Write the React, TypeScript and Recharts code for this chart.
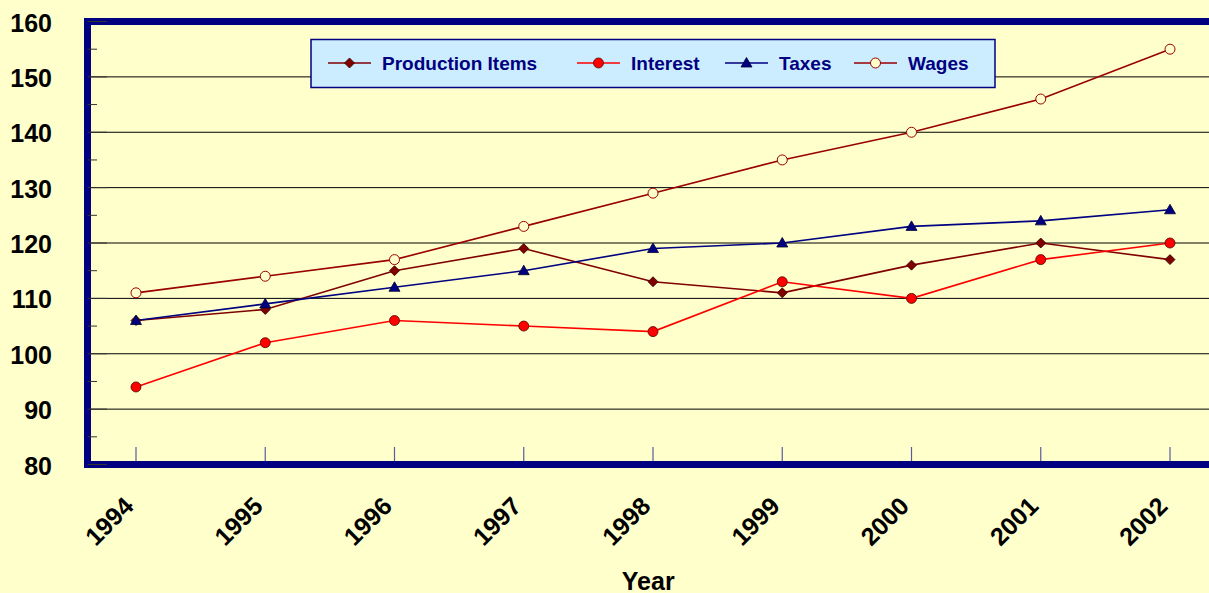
import React from 'react';
import { LineChart, Line, XAxis, YAxis, CartesianGrid, Legend, ReferenceLine } from 'recharts';

// ---- data ----
const years = [1994, 1995, 1996, 1997, 1998, 1999, 2000, 2001, 2002];
const yearLabels = ['1994', '1995', '1996', '1997', '1998', '1999', '2000', '2001', '2002'];
const productionItems = [106, 108, 115, 119, 113, 111, 116, 120, 117];
const interest = [94, 102, 106, 105, 104, 113, 110, 117, 120];
const taxes = [106, 109, 112, 115, 119, 120, 123, 124, 126];
const wages = [111, 114, 117, 123, 129, 135, 140, 146, 155];
const yTicks = [80, 85, 90, 95, 100, 105, 110, 115, 120, 125, 130, 135, 140, 145, 150, 155, 160];
const yGridValues = [90, 100, 110, 120, 130, 140, 150];
const seriesKeys = ['production', 'interest', 'taxes', 'wages'];
const seriesNames = ['Production Items', 'Interest', 'Taxes', 'Wages'];
const xAxisTitle = 'Year';

const data = years.map((year, i) => ({
  year,
  production: productionItems[i],
  interest: interest[i],
  taxes: taxes[i],
  wages: wages[i],
}));

// ---- styles ----
const FONT = '"Liberation Sans", Arial, Helvetica, sans-serif';
const BG = '#FFFFCC';
const NAVY = '#000080';
const seriesStyle: Record<string, { stroke: string; kind: string }> = {
  production: { stroke: '#800000', kind: 'diamond' },
  interest: { stroke: '#FF0000', kind: 'dot' },
  taxes: { stroke: '#000080', kind: 'triangle' },
  wages: { stroke: '#990000', kind: 'open' },
};
const legendItemX = [328, 577, 725, 854];

function Marker({ kind, cx, cy }: { kind: string; cx: number; cy: number }) {
  if (kind === 'diamond') {
    return (
      <polygon
        points={`${cx},${cy - 5} ${cx + 5},${cy} ${cx},${cy + 5} ${cx - 5},${cy}`}
        fill="#800000"
        stroke="#300000"
        strokeWidth={0.8}
      />
    );
  }
  if (kind === 'dot') {
    return <circle cx={cx} cy={cy} r={5} fill="#FF0000" stroke="#500000" strokeWidth={0.8} />;
  }
  if (kind === 'triangle') {
    return (
      <polygon
        points={`${cx},${cy - 5.5} ${cx + 5.5},${cy + 4} ${cx - 5.5},${cy + 4}`}
        fill="#000080"
        stroke="#000030"
        strokeWidth={0.8}
      />
    );
  }
  return <circle cx={cx} cy={cy} r={5} fill={BG} stroke="#990000" strokeWidth={1} />;
}

const makeDot = (kind: string) => (p: any) => {
  if (p.cx == null || p.cy == null) return <g key={`e-${kind}-${p.index}`} />;
  return (
    <g key={`d-${kind}-${p.index}`}>
      <Marker kind={kind} cx={p.cx} cy={p.cy} />
    </g>
  );
};

function XTick(props: any) {
  const { x, y, payload } = props;
  const idx = years.indexOf(payload.value);
  const label = idx >= 0 ? yearLabels[idx] : String(payload.value);
  const tx = x - 27;
  const ty = y + 56.5;
  return (
    <g>
      <line x1={x} x2={x} y1={y - 3.5} y2={y - 17.5} stroke="#5A5AA0" strokeWidth={1.2} />
      <text
        x={tx}
        y={ty}
        transform={`rotate(-45 ${tx} ${ty})`}
        textAnchor="middle"
        dominantBaseline="central"
        fontFamily={FONT}
        fontWeight="bold"
        fontSize={25}
        fill="#000"
      >
        {label}
      </text>
    </g>
  );
}

function YTick(props: any) {
  const { x, y, payload } = props;
  const v = payload.value;
  const major = v % 10 === 0;
  return (
    <g>
      <line x1={x} x2={x + (major ? 19.5 : 9.5)} y1={y} y2={y} stroke="#333" strokeWidth={1} />
      {major && (
        <text
          x={x - 35.5}
          y={y + 1}
          textAnchor="end"
          dominantBaseline="central"
          fontFamily={FONT}
          fontWeight="bold"
          fontSize={25}
          fill="#000"
        >
          {v}
        </text>
      )}
    </g>
  );
}

function LegendBox(props: any) {
  const payload = props.payload || [];
  return (
    <svg width={1209} height={100} style={{ display: 'block', overflow: 'visible' }}>
      <rect x={311} y={39.5} width={684} height={48} fill="#CCECFF" stroke={NAVY} strokeWidth={1.5} />
      {payload.map((entry: any) => {
        const key = String(entry.dataKey);
        const i = seriesKeys.indexOf(key);
        if (i < 0) return null;
        const st = seriesStyle[key];
        const x0 = legendItemX[i];
        const cy = 63;
        return (
          <g key={key}>
            <line x1={x0} x2={x0 + 43} y1={cy} y2={cy} stroke={st.stroke} strokeWidth={1.5} />
            <Marker kind={st.kind} cx={x0 + 21.5} cy={cy} />
            <text
              x={x0 + 54}
              y={cy}
              dominantBaseline="central"
              fontFamily={FONT}
              fontWeight="bold"
              fontSize={19}
              fill={NAVY}
            >
              {seriesNames[i]}
            </text>
          </g>
        );
      })}
    </svg>
  );
}

export default function App() {
  return (
    <div style={{ position: 'fixed', left: 0, top: 0, width: 1209, height: 593, background: BG, overflow: 'hidden' }}>
      <LineChart width={1209} height={593} data={data} margin={{ top: 21.5, right: 0, left: 7.5, bottom: 0 }}>
        <CartesianGrid vertical={false} horizontalValues={yGridValues} stroke="#000" strokeWidth={1} />
        <XAxis
          dataKey="year"
          type="number"
          domain={[1993.6248, 2002.3017]}
          ticks={years}
          interval={0}
          allowDataOverflow
          height={128.5}
          tickSize={0}
          tickMargin={0}
          tickLine={false}
          axisLine={{ stroke: NAVY, strokeWidth: 7, strokeLinecap: 'square' }}
          tick={<XTick />}
          label={{
            value: xAxisTitle,
            position: 'insideBottom',
            offset: 3,
            dx: 0,
            fontFamily: FONT,
            fontWeight: 'bold',
            fontSize: 25,
            fill: '#000',
          }}
        />
        <YAxis
          type="number"
          domain={[80, 160]}
          ticks={yTicks}
          interval={0}
          width={80}
          tickSize={0}
          tickMargin={0}
          tickLine={false}
          axisLine={{ stroke: NAVY, strokeWidth: 7, strokeLinecap: 'square' }}
          tick={<YTick />}
        />
        <ReferenceLine y={160} stroke={NAVY} strokeWidth={7} />
        <Legend verticalAlign="middle" align="center" content={<LegendBox />} wrapperStyle={{ left: 0, top: 0, width: 1209, height: 100 }} />
        {seriesKeys.map((k, i) => (
          <Line
            key={k}
            dataKey={k}
            name={seriesNames[i]}
            stroke={seriesStyle[k].stroke}
            strokeWidth={1.6}
            dot={makeDot(seriesStyle[k].kind)}
            activeDot={false}
            isAnimationActive={false}
          />
        ))}
      </LineChart>
    </div>
  );
}
